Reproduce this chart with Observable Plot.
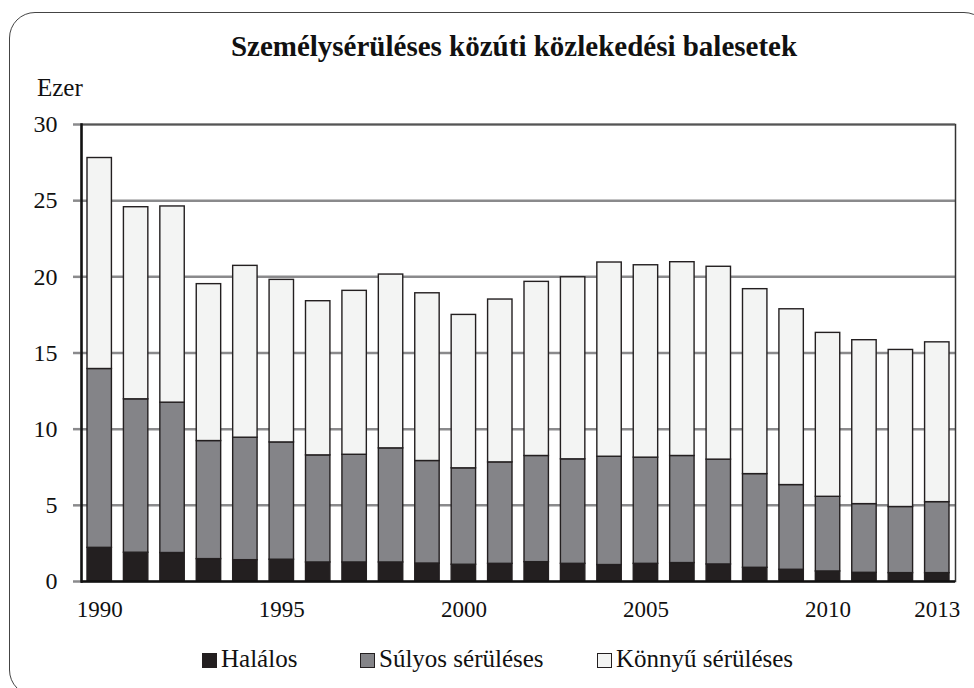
<!DOCTYPE html>
<html>
<head>
<meta charset="utf-8">
<script src="https://cdn.jsdelivr.net/npm/d3@7"></script>
<script src="https://cdn.jsdelivr.net/npm/@observablehq/plot@0.6"></script>
<style>
  html, body { margin: 0; padding: 0; background: #fff; }
  body { width: 974px; height: 688px; overflow: hidden; position: relative; font-family: "Liberation Serif", "DejaVu Serif", serif; color: #111; }
  #frame { position: absolute; left: 9px; top: 12px; width: 981px; height: 684px; border: 1.5px solid #444; border-radius: 26px; box-sizing: border-box; }
  #title { position: absolute; left: 0; width: 1028px; top: 30px; text-align: center; font-weight: bold; font-size: 29px; font-family: "Liberation Serif", serif; }
  #unit { position: absolute; left: 37px; top: 74px; font-size: 25px; font-family: "Liberation Serif", serif; }
  #chart { position: absolute; left: 0; top: 100px; width: 974px; }
  #chart svg { max-width: none; }
  #chart svg text { font-family: "Liberation Serif", serif !important; }
  .leg { position: absolute; top: 645px; font-size: 25px; font-family: "Liberation Serif", serif; display: flex; align-items: center; white-space: nowrap; }
  .sw { width: 15px; height: 15px; border: 1px solid #231f20; box-sizing: border-box; margin-right: 4px; margin-top: 2px; }
</style>
</head>
<body>
<div id="frame"></div>
<div id="title">Személysérüléses közúti közlekedési balesetek</div>
<div id="unit">Ezer</div>
<div id="chart"></div>
<div id="legend"></div>
<script>
// Data (ezer = thousand)
const years = [1990,1991,1992,1993,1994,1995,1996,1997,1998,1999,2000,2001,2002,2003,2004,2005,2006,2007,2008,2009,2010,2011,2012,2013];
const seriesNames = ["Halálos", "Súlyos sérüléses", "Könnyű sérüléses"];
const halalos = [2.21,1.89,1.87,1.47,1.40,1.43,1.25,1.25,1.25,1.18,1.10,1.16,1.27,1.16,1.08,1.16,1.21,1.12,0.90,0.77,0.66,0.57,0.55,0.55];
const sulyos  = [11.74,10.07,9.87,7.75,8.04,7.70,7.03,7.07,7.49,6.73,6.33,6.66,6.97,6.86,7.11,6.97,7.03,6.88,6.15,5.56,4.90,4.51,4.34,4.66];
const konnyu  = [13.85,12.61,12.88,10.30,11.28,10.67,10.12,10.76,11.41,11.01,10.07,10.69,11.43,11.95,12.75,12.63,12.72,12.66,12.14,11.54,10.76,10.76,10.31,10.49];
const xTickYears = [1990, 1995, 2000, 2005, 2010, 2013];
const yTicks = [0, 5, 10, 15, 20, 25, 30];
const colors = ["#231f20", "#848488", "#f3f4f3"];

const seriesValues = [halalos, sulyos, konnyu];
const rows = [];
seriesNames.forEach((s, si) => {
  years.forEach((y, i) => rows.push({year: y, series: s, value: seriesValues[si][i]}));
});

const plot = Plot.plot({
  width: 974,
  height: 540,
  marginLeft: 81,
  marginRight: 19,
  marginTop: 24,
  marginBottom: 59,
  style: {fontFamily: "Liberation Serif, serif", fontSize: "22px", color: "#111", background: "transparent"},
  x: {domain: years, padding: 0, round: false, label: null},
  y: {domain: [0, 30], label: null},
  color: {domain: seriesNames, range: colors},
  marks: [
    Plot.ruleY([5, 10, 15, 20, 25], {stroke: "#8a8a8c", strokeWidth: 2.5}),
    Plot.frame({stroke: "#333", strokeWidth: 1.5}),
    Plot.ruleY([30], {stroke: "#555", strokeWidth: 2}),
    Plot.barY(rows, {x: "year", y: "value", fill: "series", stroke: "#231f20", strokeWidth: 1.4, insetLeft: 6, insetRight: 6}),
    Plot.axisY({ticks: yTicks, tickSize: 8, tickPadding: 16, stroke: "#8a8a8c", strokeWidth: 2.5, fontSize: 24, tickFormat: d => String(d)}),
    Plot.axisX({ticks: xTickYears, tickSize: 0, tickPadding: 19, fontSize: 23, tickFormat: d => String(d)}),
    Plot.frame({anchor: "left", stroke: "#111", strokeWidth: 2.5}),
    Plot.ruleY([0], {stroke: "#111", strokeWidth: 2.5})
  ]
});
document.getElementById("chart").appendChild(plot);

// Legend
const legendX = [202, 360, 597];
const legend = document.getElementById("legend");
seriesNames.forEach((s, i) => {
  const item = document.createElement("div");
  item.className = "leg";
  item.style.left = legendX[i] + "px";
  const sw = document.createElement("div");
  sw.className = "sw";
  sw.style.background = colors[i];
  item.appendChild(sw);
  const t = document.createElement("span");
  t.textContent = s;
  item.appendChild(t);
  legend.appendChild(item);
});
</script>
</body>
</html>
